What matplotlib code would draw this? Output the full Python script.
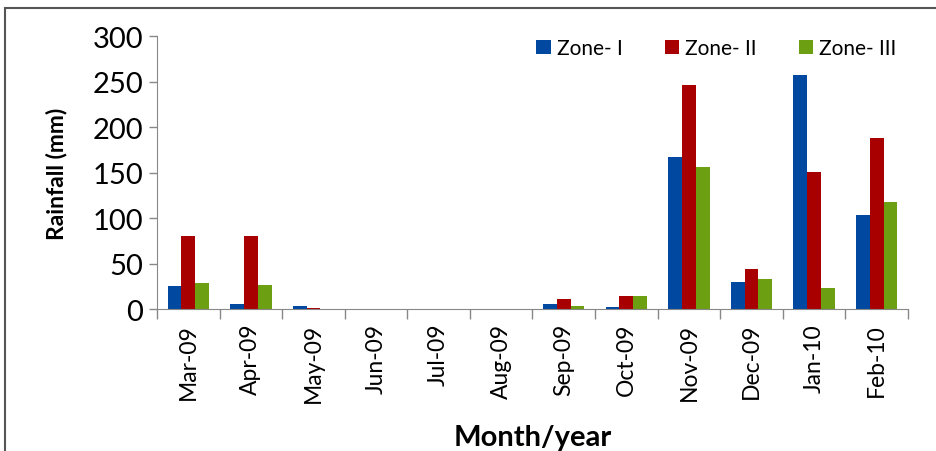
import numpy as np
import matplotlib.pyplot as plt
from matplotlib.patches import Rectangle

months = ["Mar-09", "Apr-09", "May-09", "Jun-09", "Jul-09", "Aug-09",
          "Sep-09", "Oct-09", "Nov-09", "Dec-09", "Jan-10", "Feb-10"]
zone1 = [25, 6, 3, 0, 0, 0, 6, 2.5, 167, 30, 257, 103]
zone2 = [80, 80, 1.5, 0, 0, 0, 11, 14, 246, 44, 151, 188]
zone3 = [29, 26, 0, 0, 0, 0, 3, 14, 156, 33, 23, 118]

plt.rcParams['font.family'] = ['Lato', 'DejaVu Sans']

fig = plt.figure(figsize=(9.37, 4.52), dpi=100)
ax = fig.add_axes([0.1676, 0.314, 0.8014, 0.604])

# grey frame around the chart
fig.patches.append(Rectangle((0.005, -0.05), 1.1, 1.03, transform=fig.transFigure,
                             fill=False, edgecolor="#555555", linewidth=1.5))

x = np.arange(len(months))
w = 0.22
ax.bar(x - w, zone1, w, color="#0048A0", label="Zone- I")
ax.bar(x, zone2, w, color="#A80000", label="Zone- II")
ax.bar(x + w, zone3, w, color="#6C9F12", label="Zone- III")

ax.set_xlim(-0.5, len(months) - 0.5)
ax.set_ylim(0, 300)
ax.set_yticks([0, 50, 100, 150, 200, 250, 300])
ax.tick_params(axis='y', labelsize=21, length=6, width=1, color="#888888", pad=4)
ax.set_xticks(x)
ax.set_xticklabels(months, rotation=90, fontsize=16.5)
ax.tick_params(axis='x', which='major', length=0, pad=10)
ax.set_xticks(np.arange(-0.5, len(months)), minor=True)
ax.tick_params(axis='x', which='minor', length=7, width=1, color="#888888")

for s in ["top", "right"]:
    ax.spines[s].set_visible(False)
for s in ["left", "bottom"]:
    ax.spines[s].set_color("#888888")

ax.set_ylabel("Rainfall (mm)", fontsize=16.5, fontweight="bold", labelpad=18)
ax.set_xlabel("Month/year", fontsize=21, fontweight="bold", labelpad=16)

ax.legend(loc="upper right", bbox_to_anchor=(1.01, 1.06), ncol=3, frameon=False,
          fontsize=15, handlelength=0.7, handleheight=0.7, handletextpad=0.3,
          columnspacing=2.0)

fig.savefig("out.png", dpi=100)
